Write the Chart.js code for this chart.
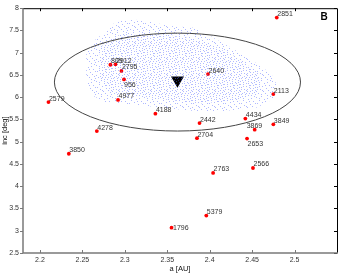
<!DOCTYPE html>
<html>
<head>
<meta charset="utf-8">
<script src="https://cdn.jsdelivr.net/npm/chart.js@4/dist/chart.umd.min.js"></script>
<style>
  html, body { margin: 0; padding: 0; background: #fff; }
  #c { display: block; }
</style>
</head>
<body>
<canvas id="c" width="346" height="274"></canvas>
<script>
// ===== Daten =====
const xTicks = [2.2, 2.25, 2.3, 2.35, 2.4, 2.45, 2.5];
const yTicks = [2.5, 3, 3.5, 4, 4.5, 5, 5.5, 6, 6.5, 7, 7.5, 8];

// Asteroiden (rote Punkte)
const asteroidIds = ['2851', '809', '2912', '2795', '956', '4977', '2579', '4188', '4278', '3850', '1796',
  '2640', '2113', '2442', '4434', '3849', '3869', '2704', '2653', '2763', '2566', '5379'];
const asteroidA = [2.479, 2.283, 2.289, 2.296, 2.299, 2.292, 2.210, 2.336, 2.267, 2.234, 2.355,
  2.398, 2.475, 2.388, 2.442, 2.475, 2.453, 2.385, 2.444, 2.404, 2.451, 2.396];
const asteroidInc = [7.79, 6.73, 6.74, 6.59, 6.40, 5.94, 5.89, 5.63, 5.24, 4.73, 3.07,
  6.52, 6.07, 5.42, 5.52, 5.39, 5.27, 5.08, 5.07, 4.30, 4.41, 3.34];

// Mittelpunkt der Familie (Dreieck) + Ellipse
const centerA = [2.362];
const centerInc = [6.38];
const ellipseCenter = [2.362, 6.34];
const ellipseRadius = [0.145, 1.10];

// Punktwolke: Umriss (aussen) und dichter Kern
const cloudOuterA = [2.2545, 2.2652, 2.2770, 2.2889, 2.3066, 2.3303, 2.3540, 2.3813, 2.3967, 2.4168, 2.4370,
  2.4559, 2.4725, 2.4796, 2.4749, 2.4559, 2.4168, 2.3813, 2.3422, 2.3066, 2.2770, 2.2616, 2.2545];
const cloudOuterInc = [7.02, 7.29, 7.47, 7.69, 7.76, 7.69, 7.60, 7.56, 7.42, 7.20, 6.98,
  6.75, 6.53, 6.26, 5.96, 5.77, 5.69, 5.69, 5.77, 5.84, 5.89, 6.04, 6.31];
const cloudCoreA = [2.2711, 2.2948, 2.3422, 2.3896, 2.4310, 2.4583, 2.4630, 2.4370, 2.3896, 2.3303, 2.2829, 2.2687];
const cloudCoreInc = [7.13, 7.42, 7.42, 7.29, 6.91, 6.53, 6.18, 5.94, 5.86, 5.98, 6.09, 6.46];

const toPoints = (xs, ys) => xs.map((x, i) => ({ x, y: ys[i] }));

// ===== Muster fuer die Punktwolke (Stipple, 16x16 Kachel) =====
function stipple(dots, color) {
  const c = document.createElement('canvas');
  c.width = 16; c.height = 16;
  const g = c.getContext('2d');
  g.fillStyle = color;
  dots.forEach(([px, py]) => g.fillRect(px, py, 1, 1));
  return g.createPattern(c, 'repeat');
}
const outerPattern = stipple([[0, 1], [5, 0], [11, 2], [14, 0], [3, 4], [8, 3], [13, 5], [1, 7], [6, 6], [10, 8],
  [15, 7], [4, 9], [12, 10], [0, 11], [7, 11], [2, 13], [9, 13], [14, 12], [5, 14], [11, 15], [15, 14], [3, 2],
  [9, 5], [6, 10]], 'rgba(80,100,255,0.45)');
const corePattern = stipple([[2, 0], [8, 1], [12, 3], [0, 4], [6, 3], [15, 4], [3, 6], [9, 7], [13, 8], [1, 9],
  [7, 9], [10, 11], [4, 12], [15, 10], [1, 14], [8, 15], [12, 13], [6, 13], [14, 2], [10, 5]], 'rgba(80,100,255,0.42)');

// ===== Plugins =====
const FONT = 'Liberation Sans, Arial, sans-serif';

// Ellipse um die Familie
const ellipsePlugin = {
  id: 'ellipse',
  afterDatasetsDraw(chart) {
    const { ctx, scales: { x, y } } = chart;
    const cx = x.getPixelForValue(ellipseCenter[0]);
    const cy = y.getPixelForValue(ellipseCenter[1]);
    const rx = x.getPixelForValue(ellipseCenter[0] + ellipseRadius[0]) - cx;
    const ry = cy - y.getPixelForValue(ellipseCenter[1] + ellipseRadius[1]);
    ctx.save();
    ctx.strokeStyle = '#444';
    ctx.lineWidth = 1;
    ctx.beginPath();
    ctx.ellipse(cx, cy, rx, ry, 0, 0, Math.PI * 2);
    ctx.stroke();
    ctx.restore();
  }
};

// Beschriftung der Asteroiden
const labelShift = { '956': [0, 8], '2653': [0.5, 7], '3869': [-8, -2], '1796': [1.5, 2.5] };
const labelPlugin = {
  id: 'labels',
  afterDatasetsDraw(chart) {
    const { ctx, scales: { x, y } } = chart;
    ctx.save();
    ctx.font = '7px ' + FONT;
    ctx.fillStyle = '#333';
    ctx.textBaseline = 'alphabetic';
    ctx.textAlign = 'left';
    asteroidIds.forEach((id, i) => {
      const [dx, dy] = labelShift[id] || [0.5, -1.5];
      ctx.fillText(id, x.getPixelForValue(asteroidA[i]) + dx, y.getPixelForValue(asteroidInc[i]) + dy);
    });
    // Panel-Buchstabe
    ctx.font = 'bold 10px ' + FONT;
    ctx.fillStyle = '#000';
    ctx.textAlign = 'center';
    ctx.textBaseline = 'middle';
    ctx.fillText('B', chart.chartArea.right - 13, chart.chartArea.top + 9);
    ctx.restore();
  }
};

// Rahmen + Tickstriche
const framePlugin = {
  id: 'frame',
  afterDraw(chart) {
    const { ctx, chartArea: a, scales: { x, y } } = chart;
    ctx.save();
    ctx.lineWidth = 1;
    ctx.strokeStyle = '#000';
    ctx.beginPath();
    ctx.moveTo(a.left, a.top + 0.5); ctx.lineTo(a.right + 0.5, a.top + 0.5);
    ctx.lineTo(a.right + 0.5, a.bottom);
    xTicks.forEach(v => { const px = Math.round(x.getPixelForValue(v)) + 0.5; ctx.moveTo(px, a.top); ctx.lineTo(px, a.top + 3); });
    yTicks.forEach(v => { const py = Math.round(y.getPixelForValue(v)) + 0.5; ctx.moveTo(a.right, py); ctx.lineTo(a.right - 3, py); });
    ctx.stroke();

    ctx.strokeStyle = '#7a7a7a';
    ctx.beginPath();
    xTicks.forEach(v => { const px = Math.round(x.getPixelForValue(v)) + 0.5; ctx.moveTo(px, a.bottom); ctx.lineTo(px, a.bottom - 3); });
    yTicks.forEach(v => { const py = Math.round(y.getPixelForValue(v)) + 0.5; ctx.moveTo(a.left, py); ctx.lineTo(a.left - 3, py); });
    ctx.stroke();
    ctx.lineWidth = 1.5;
    ctx.beginPath();
    ctx.moveTo(a.left, a.top); ctx.lineTo(a.left, a.bottom); ctx.lineTo(a.right + 1, a.bottom);
    ctx.stroke();
    ctx.restore();
  }
};

// ===== Chart =====
new Chart(document.getElementById('c'), {
  type: 'scatter',
  data: {
    datasets: [
      {
        label: 'cloud',
        data: toPoints(cloudOuterA, cloudOuterInc),
        showLine: true,
        fill: 'shape',
        backgroundColor: outerPattern,
        borderWidth: 0,
        borderColor: 'rgba(0,0,0,0)',
        pointRadius: 0
      },
      {
        label: 'core',
        data: toPoints(cloudCoreA, cloudCoreInc),
        showLine: true,
        fill: 'shape',
        backgroundColor: corePattern,
        borderWidth: 0,
        borderColor: 'rgba(0,0,0,0)',
        pointRadius: 0
      },
      {
        label: 'asteroids',
        data: toPoints(asteroidA, asteroidInc),
        backgroundColor: '#ff0000',
        borderWidth: 0,
        pointRadius: 1.9
      },
      {
        label: 'center',
        data: toPoints(centerA, centerInc),
        pointStyle: 'triangle',
        rotation: 180,
        backgroundColor: '#000',
        borderWidth: 0,
        pointRadius: 7.5
      }
    ]
  },
  options: {
    responsive: false,
    animation: false,
    events: [],
    layout: { padding: { top: 6, right: 9, left: 0, bottom: 0 } },
    plugins: { legend: { display: false }, tooltip: { enabled: false } },
    scales: {
      x: {
        type: 'linear',
        min: 2.18,
        max: 2.55,
        afterBuildTicks: s => { s.ticks = xTicks.map(v => ({ value: v })); },
        afterFit: s => { s.height = 21; },
        ticks: { color: '#333', font: { family: FONT, size: 7 }, padding: 3, maxRotation: 0, callback: v => String(v) },
        grid: { display: false, drawTicks: false },
        border: { display: false },
        title: { display: true, text: 'a [AU]', color: '#111', font: { family: FONT, size: 7.5 }, padding: { top: 0, bottom: 1 } }
      },
      y: {
        type: 'linear',
        min: 2.5,
        max: 8,
        afterBuildTicks: s => { s.ticks = yTicks.map(v => ({ value: v })); },
        afterFit: s => { s.width = 23; },
        ticks: { color: '#333', font: { family: FONT, size: 7 }, padding: 4, callback: v => String(v) },
        grid: { display: false, drawTicks: false },
        border: { display: false },
        title: { display: true, text: 'inc [deg]', color: '#111', font: { family: FONT, size: 7.5 }, padding: 0 }
      }
    }
  },
  plugins: [ellipsePlugin, labelPlugin, framePlugin]
});
</script>
</body>
</html>
